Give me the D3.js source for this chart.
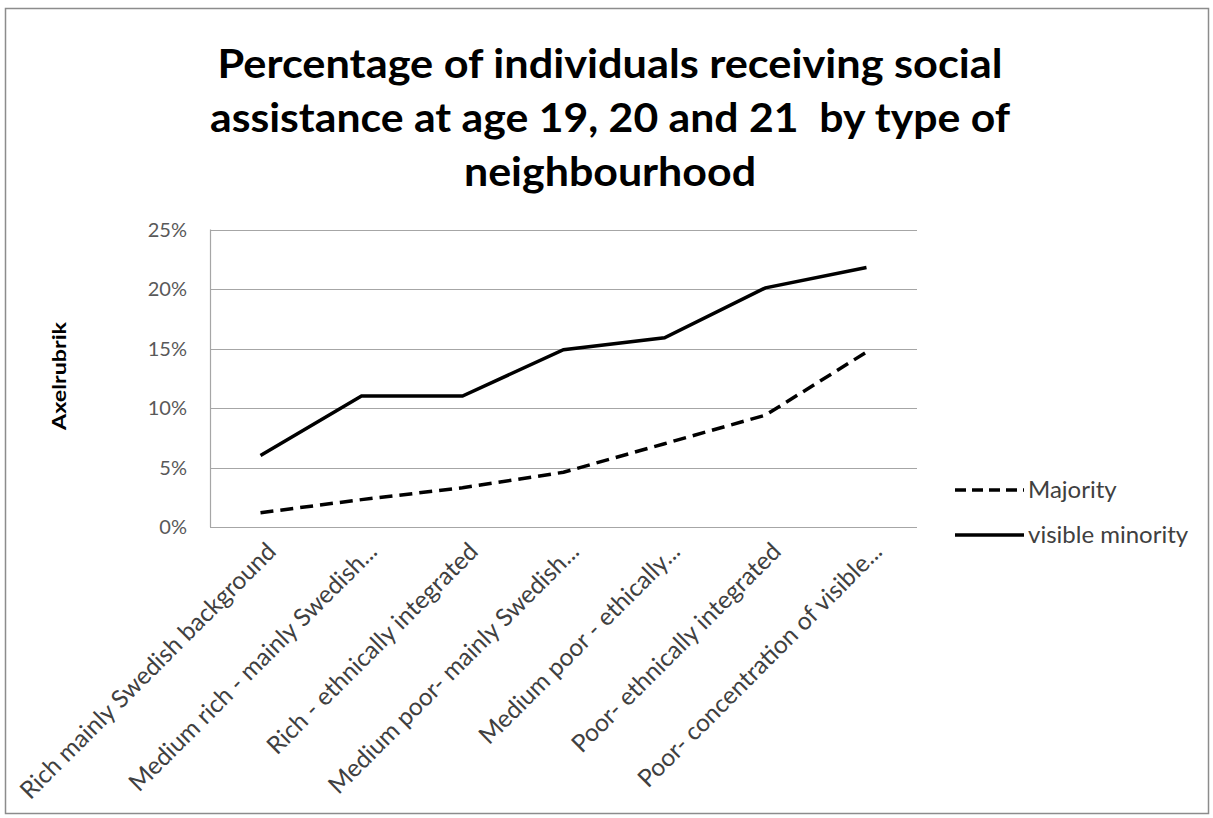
<!DOCTYPE html>
<html>
<head>
<meta charset="utf-8">
<script src="https://cdn.jsdelivr.net/npm/d3@7"></script>
<style>
  body { margin: 0; background: #fff; }
  text { font-family: Lato, "Liberation Sans", sans-serif; white-space: pre; }
</style>
</head>
<body>
<div id="chart"></div>
<script>
// data
var categories = [
  "Rich mainly Swedish background",
  "Medium rich - mainly Swedish...",
  "Rich - ethnically integrated",
  "Medium poor- mainly Swedish...",
  "Medium poor - ethically...",
  "Poor- ethnically integrated",
  "Poor- concentration of visible..."
];
var majority = [1.2, 2.3, 3.3, 4.6, 7.0, 9.4, 14.7];
var visibleMinority = [6.0, 11.0, 11.0, 14.9, 15.9, 20.1, 21.8];
var yTicks = [0, 5, 10, 15, 20, 25];
var titleLines = [
  "Percentage of individuals receiving social",
  "assistance at age 19, 20 and 21  by type of",
  "neighbourhood"
];

var W = 1213, H = 818;
var svg = d3.select("#chart").append("svg").attr("width", W).attr("height", H);

// outer frame
svg.append("rect").attr("x", 5.5).attr("y", 8.5).attr("width", 1203).attr("height", 805)
  .attr("fill", "none").attr("stroke", "#8c8c8c").attr("stroke-width", 1.5);

var x = d3.scaleBand().domain(categories).range([210, 917]);
var y = d3.scaleLinear().domain([0, 25]).range([527, 229.5]);

// title
var titleW = [785, 800, 292];
svg.append("g").selectAll("text").data(titleLines).enter().append("text")
  .attr("x", 610).attr("y", function(d, i) { return 78 + i * 54; })
  .attr("text-anchor", "middle")
  .attr("font-size", 41).attr("font-weight", "bold").attr("fill", "#000")
  .attr("textLength", function(d, i) { return titleW[i]; })
  .attr("lengthAdjust", "spacingAndGlyphs")
  .text(function(d) { return d; });

// gridlines
svg.append("g").selectAll("line").data(yTicks).enter().append("line")
  .attr("x1", 210).attr("x2", 917)
  .attr("y1", function(d) { return Math.round(y(d)) + 0.5; })
  .attr("y2", function(d) { return Math.round(y(d)) + 0.5; })
  .attr("stroke", "#a6a6a6").attr("stroke-width", 1.2);
svg.append("line").attr("x1", 210.5).attr("x2", 210.5).attr("y1", y(25)).attr("y2", y(0))
  .attr("stroke", "#a6a6a6").attr("stroke-width", 1.2);

// y tick labels
svg.append("g").selectAll("text").data(yTicks).enter().append("text")
  .attr("x", 187).attr("y", function(d) { return y(d); }).attr("dy", "0.35em")
  .attr("text-anchor", "end").attr("font-size", 20).attr("fill", "#595959")
  .text(function(d) { return d + "%"; });

// y axis title
svg.append("text").attr("transform", "translate(66,376) rotate(-90)")
  .attr("text-anchor", "middle").attr("font-size", 19).attr("font-weight", "bold")
  .attr("textLength", 108).attr("lengthAdjust", "spacingAndGlyphs")
  .attr("fill", "#000").text("Axelrubrik");

// x labels
svg.append("g").selectAll("text").data(categories).enter().append("text")
  .attr("transform", function(d) {
    return "translate(" + (x(d) + x.bandwidth() / 2 + 11) + ",547) rotate(-45)";
  })
  .attr("text-anchor", "end").attr("font-size", 24.5).attr("fill", "#404040")
  .attr("dy", "0.35em")
  .text(function(d) { return d; });

// lines
var line = d3.line()
  .x(function(d, i) { return x(categories[i]) + x.bandwidth() / 2; })
  .y(function(d) { return y(d); });

svg.append("path").datum(majority).attr("d", line)
  .attr("fill", "none").attr("stroke", "#000").attr("stroke-width", 3.5)
  .attr("stroke-dasharray", "13,7");
svg.append("path").datum(visibleMinority).attr("d", line)
  .attr("fill", "none").attr("stroke", "#000").attr("stroke-width", 3.5);

// legend
var legend = [
  { name: "Majority", dash: "11,6", y: 490 },
  { name: "visible minority", dash: null, y: 535 }
];
var lg = svg.append("g").selectAll("g").data(legend).enter().append("g");
lg.append("line").attr("x1", 955).attr("x2", 1024)
  .attr("y1", function(d) { return d.y; }).attr("y2", function(d) { return d.y; })
  .attr("stroke", "#000").attr("stroke-width", 3.5)
  .attr("stroke-dasharray", function(d) { return d.dash; });
lg.append("text").attr("x", 1028).attr("y", function(d) { return d.y; }).attr("dy", "0.35em")
  .attr("font-size", 24).attr("fill", "#404040")
  .text(function(d) { return d.name; });
</script>
</body>
</html>
